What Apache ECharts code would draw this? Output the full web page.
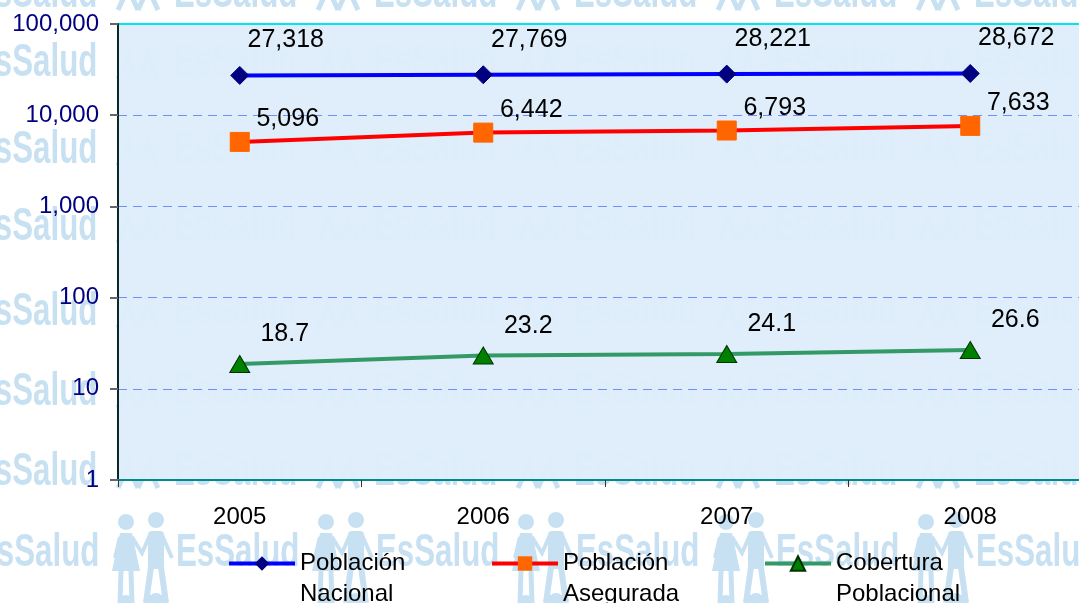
<!DOCTYPE html>
<html>
<head>
<meta charset="utf-8">
<script src="https://cdn.jsdelivr.net/npm/echarts@6/dist/echarts.min.js"></script>
<style>
  html, body { margin: 0; padding: 0; background: #ffffff; }
  #chart { width: 1079px; height: 603px; }
</style>
</head>
<body>
<div id="chart"></div>
<script>
// Years on the category axis
const years = ['2005', '2006', '2007', '2008'];
// Población nacional (miles)
const poblacionNacional = [27318, 27769, 28221, 28672];
// Población asegurada (miles)
const poblacionAsegurada = [5096, 6442, 6793, 7633];
// Cobertura poblacional (%)
const coberturaPoblacional = [18.7, 23.2, 24.1, 26.6];
// Series names (two-line legend entries)
const seriesNames = ['Población\nNacional', 'Población\nAsegurada', 'Cobertura\nPoblacional'];

const WM = '#c7e1f2';
const WZ = -10;

// Background watermark: rows of the EsSalud logo and wordmark
function logoSmall(x, cy) {
  const els = [];
  [x + 10, x + 30].forEach(fx => {
    els.push({ type: 'circle', z: WZ, shape: { cx: fx + 2, cy: cy - 13, r: 4 }, style: { fill: WM } });
    els.push({ type: 'polyline', z: WZ, shape: { points: [[fx - 10, cy + 16], [fx, cy - 6], [fx + 10, cy + 16]] },
      style: { stroke: WM, lineWidth: 5, fill: null } });
  });
  els.push({ type: 'circle', z: WZ, shape: { cx: x + 46, cy: cy + 2, r: 3 }, style: { fill: WM } });
  return els;
}
function peopleLarge(x, top) {
  const els = [];
  // left figure (dress)
  els.push({ type: 'circle', shape: { cx: x + 14, cy: top + 9, r: 8 }, style: { fill: WM } });
  els.push({ type: 'polygon', shape: { points: [[x + 8, top + 20], [x + 20, top + 20], [x + 28, top + 58], [x, top + 58]] }, style: { fill: WM } });
  els.push({ type: 'polyline', shape: { points: [[x + 9, top + 58], [x + 8, top + 90]] }, style: { stroke: WM, lineWidth: 5 } });
  els.push({ type: 'polyline', shape: { points: [[x + 19, top + 58], [x + 20, top + 90]] }, style: { stroke: WM, lineWidth: 5 } });
  // right figure
  els.push({ type: 'circle', shape: { cx: x + 44, cy: top + 7, r: 8 }, style: { fill: WM } });
  els.push({ type: 'rect', shape: { x: x + 36, y: top + 18, width: 16, height: 38, r: 4 }, style: { fill: WM } });
  els.push({ type: 'polyline', shape: { points: [[x + 39, top + 54], [x + 34, top + 90]] }, style: { stroke: WM, lineWidth: 6 } });
  els.push({ type: 'polyline', shape: { points: [[x + 49, top + 54], [x + 54, top + 90]] }, style: { stroke: WM, lineWidth: 6 } });
  // joined hands
  els.push({ type: 'polyline', shape: { points: [[x + 3, top + 45], [x + 8, top + 24]] }, style: { stroke: WM, lineWidth: 4 } });
  els.push({ type: 'polyline', shape: { points: [[x + 20, top + 24], [x + 30, top + 40], [x + 38, top + 22]] }, style: { stroke: WM, lineWidth: 4, fill: null } });
  els.push({ type: 'polyline', shape: { points: [[x + 50, top + 22], [x + 60, top + 45]] }, style: { stroke: WM, lineWidth: 4 } });
  els.forEach(e => { e.z = WZ; });
  return els;
}
function wordmark(x, cy) {
  return {
    type: 'text', z: WZ, x: x, y: cy, scaleX: 0.68,
    style: { text: 'EsSalud', x: 0, y: 0, fill: WM, font: 'bold 46px "Liberation Sans", Arial, sans-serif',
      verticalAlign: 'middle' }
  };
}
const watermark = [];
const rows = [-6, 63, 150, 227, 312, 392, 472];
rows.forEach(cy => {
  for (let k = -1; k < 6; k++) {
    const px = 118 + 200 * k;
    watermark.push(...logoSmall(px, cy));
    watermark.push(wordmark(px + 56, cy));
  }
});
for (let k = -1; k < 6; k++) {
  const px = 112 + 200 * k;
  watermark.push(...peopleLarge(px, 513));
  watermark.push(wordmark(px + 64, 553));
  watermark.push(...peopleLarge(px, 594));
}

const fmt = v => Number(v).toLocaleString('en-US');

const labelFont = { fontFamily: '"Liberation Sans", Arial, sans-serif', fontSize: 25, color: '#000000' };

const chart = echarts.init(document.getElementById('chart'), null, { renderer: 'canvas' });
chart.setOption({
  backgroundColor: '#ffffff',
  animation: false,
  graphic: { elements: watermark.map(e => Object.assign(e, { silent: true })) },
  grid: {
    left: 118, top: 24, right: -13, bottom: 123,
    outerBoundsMode: 'none',
    show: true, backgroundColor: 'rgba(222,237,250,0.96)',
    borderColor: '#00e5ee', borderWidth: 2
  },
  xAxis: {
    type: 'category', data: years, boundaryGap: true,
    axisLine: { show: true, lineStyle: { color: '#008b8b', width: 2 } },
    axisTick: { show: true, length: 7, lineStyle: { color: '#333333' } },
    axisLabel: { margin: 25, color: '#000000', fontSize: 24, fontFamily: '"Liberation Sans", Arial, sans-serif' },
    splitLine: { show: false }
  },
  yAxis: {
    type: 'log', logBase: 10, min: 1, max: 100000,
    axisLine: { show: true, lineStyle: { color: '#0a2a2a', width: 2 } },
    axisTick: { show: true, length: 8, lineStyle: { color: '#666666', width: 2 } },
    axisLabel: { margin: 19, color: '#000080', fontSize: 24, fontFamily: '"Liberation Sans", Arial, sans-serif', formatter: fmt },
    splitLine: { show: true, showMinLine: false, showMaxLine: false, lineStyle: { color: '#6f8fff', type: [9, 6], width: 1 } }
  },
  legend: [0, 1, 2].map((i, j) => ({
    data: [seriesNames[i]],
    left: [227, 490, 763][j], top: 517,
    padding: 0,
    itemWidth: 66, itemHeight: 18,
    lineStyle: { width: 4 },
    formatter: name => ' \n' + name,
    textStyle: { fontSize: 24, lineHeight: 31, color: '#000000', fontFamily: '"Liberation Sans", Arial, sans-serif' }
  })),
  series: [
    {
      name: seriesNames[0], type: 'line', data: poblacionNacional,
      symbol: 'diamond', symbolSize: 18,
      lineStyle: { color: '#0000ff', width: 4 },
      itemStyle: { color: '#000080', borderColor: '#000080' },
      label: { show: true, position: 'top', offset: [46, -8], formatter: p => fmt(p.value), ...labelFont }
    },
    {
      name: seriesNames[1], type: 'line', data: poblacionAsegurada,
      symbol: 'rect', symbolSize: 19,
      lineStyle: { color: '#ff0000', width: 4 },
      itemStyle: { color: '#ff6600', borderColor: '#ff6600' },
      label: { show: true, position: 'top', offset: [48, 5], formatter: p => fmt(p.value), ...labelFont }
    },
    {
      name: seriesNames[2], type: 'line', data: coberturaPoblacional,
      symbol: 'triangle', symbolSize: [20, 17],
      lineStyle: { color: '#339966', width: 4 },
      itemStyle: { color: '#008000', borderColor: '#003300', borderWidth: 1 },
      label: { show: true, position: 'top', offset: [45, -3], formatter: p => p.value.toFixed(1), ...labelFont }
    }
  ]
});
</script>
</body>
</html>
